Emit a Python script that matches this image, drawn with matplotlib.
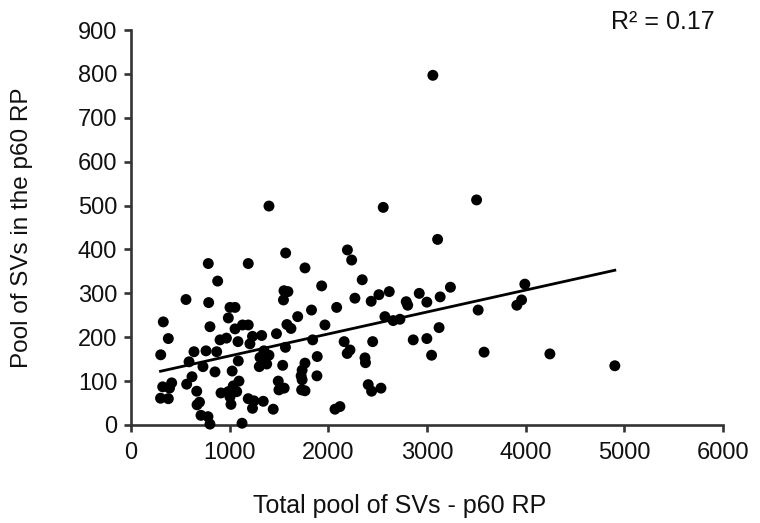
import numpy as np
import matplotlib
matplotlib.use('Agg')
import matplotlib.pyplot as plt

plt.rcParams['font.family'] = ['Liberation Sans', 'DejaVu Sans']

# Total pool of SVs (x) vs pool of SVs in the p60 RP (y)
total_pool = [327, 378, 301, 800, 638, 760, 868, 902, 588, 729,
              851, 412, 321, 390, 564, 618, 666, 299, 378, 694,
              669, 709, 780, 800, 912, 783, 878, 557, 787, 967,
              986, 1003, 1054, 1188, 1567, 1763, 1932, 1550, 1590, 1545,
              1829, 1689, 1580, 1621, 1474, 1965, 1054, 1130, 1188, 1231,
              1324, 1205, 1084, 1841, 1565, 1347, 1398, 1307, 1375, 1300,
              1087, 1537, 1763, 1734, 1724, 1734, 1887, 1884, 1025, 1094,
              1036, 986, 1071, 1492, 1499, 1552, 1729, 1763, 1188, 1246,
              1340, 1231, 1441, 1003, 1013, 1125, 2084, 2067, 2117, 1398,
              2556, 3107, 2193, 2236, 2343, 2269, 2434, 2512, 2617, 2789,
              2804, 2921, 2998, 3133, 3237, 2573, 2657, 2725, 3122, 2160,
              2449, 2860, 2998, 3046, 2191, 2219, 2371, 2376, 2404, 2438,
              2533, 3059, 3502, 3991, 3958, 3910, 3518, 3578, 4245, 4903]
p60_pool = [235, 197, 160, 224, 167, 169, 167, 194, 144, 133,
            121, 96, 87, 84, 93, 110, 77, 61, 60, 52,
            46, 22, 19, 2, 73, 368, 328, 286, 279, 198,
            244, 268, 268, 368, 392, 358, 317, 306, 304, 285,
            262, 247, 229, 220, 208, 228, 219, 228, 228, 202,
            204, 185, 190, 194, 177, 169, 159, 154, 139, 133,
            146, 136, 141, 125, 112, 103, 156, 112, 123, 100,
            89, 76, 76, 100, 80, 84, 80, 78, 60, 55,
            54, 38, 36, 64, 47, 4, 268, 36, 42, 499,
            496, 423, 399, 376, 331, 289, 282, 297, 304, 281,
            273, 300, 280, 292, 314, 247, 238, 241, 222, 190,
            190, 194, 197, 159, 163, 171, 153, 142, 92, 77,
            84, 797, 513, 321, 285, 273, 262, 166, 162, 135]

x_ticks = [0, 1000, 2000, 3000, 4000, 5000, 6000]
y_ticks = [0, 100, 200, 300, 400, 500, 600, 700, 800, 900]
r2_text = 'R² = 0.17'

x = np.array(total_pool, dtype=float)
y = np.array(p60_pool, dtype=float)

fig = plt.figure(figsize=(7.6, 5.23), dpi=100)
ax = fig.add_axes([0.1724, 0.1874, 0.779, 0.755])

ax.scatter(x, y, s=62, color='black', edgecolors='none', zorder=4, clip_on=False)

# linear trend line over the data range
slope, icept = np.polyfit(x, y, 1)
xl = np.array([x.min(), x.max()])
ax.plot(xl, slope*xl + icept, color='black', lw=2.0, zorder=3)

ax.set_xlim(0, 6000)
ax.set_ylim(0, 900)
ax.set_xticks(x_ticks)
ax.set_yticks(y_ticks)

for side in ['top', 'right']:
    ax.spines[side].set_visible(False)
for side in ['left', 'bottom']:
    ax.spines[side].set_linewidth(1.9)
    ax.spines[side].set_color('#333333')
    ax.spines[side].set_zorder(2)

ax.tick_params(axis='both', direction='out', length=5, width=1.9,
               color='#333333', labelsize=17, labelcolor='#111111')
ax.tick_params(axis='x', pad=7)
ax.tick_params(axis='y', pad=5)

ax.set_xlabel('Total pool of SVs - p60 RP', fontsize=18, color='#111111')
ax.set_ylabel('Pool of SVs in the p60 RP', fontsize=17.5, color='#111111')
ax.xaxis.set_label_coords(0.454, -0.175)
ax.yaxis.set_label_coords(-0.165, 0.5)

fig.text(0.872, 0.958, r2_text, fontsize=18, color='#111111',
         ha='center', va='center')

fig.savefig('out.png', dpi=100)
